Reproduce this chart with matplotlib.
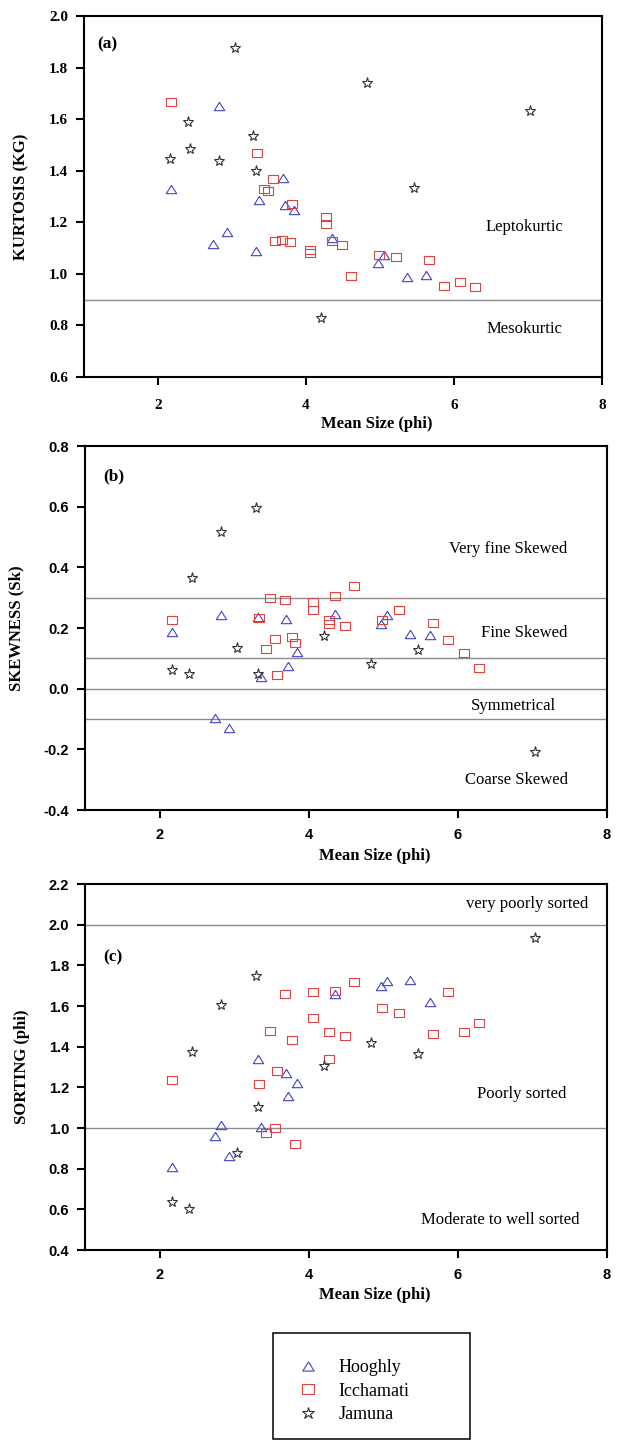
import matplotlib
matplotlib.use("Agg")
import matplotlib.pyplot as plt
from matplotlib.patches import Rectangle
from matplotlib.ticker import FormatStrFormatter, MultipleLocator

plt.rcParams["font.family"] = "Liberation Serif"
plt.rcParams["axes.unicode_minus"] = False

# Hooghly samples (mean size, kurtosis, skewness, sorting)
hooghly_mean = [2.17, 2.74, 2.83, 2.93, 3.32, 3.36, 3.69, 3.72, 3.84, 4.35, 4.97, 5.05, 5.36, 5.62]
hooghly_kurt = [1.331, 1.117, 1.651, 1.162, 1.088, 1.287, 1.37, 1.267, 1.247, 1.14, 1.042, 1.072, 0.988, 0.995]
hooghly_skew = [0.187, -0.098, 0.242, -0.129, 0.236, 0.040, 0.229, 0.076, 0.12, 0.245, 0.212, 0.244, 0.181, 0.176]
hooghly_sort = [0.807, 0.962, 1.015, 0.862, 1.339, 1.007, 1.269, 1.159, 1.223, 1.657, 1.698, 1.723, 1.728, 1.618]

# Icchamati samples
icchamati_mean = [2.17, 3.34, 3.43, 3.48, 3.55, 3.58, 3.68, 3.78, 3.81, 4.06, 4.06, 4.27, 4.27,
                  4.35, 4.49, 4.61, 4.98, 5.21, 5.66, 5.87, 6.08, 6.28]
icchamati_kurt = [1.666, 1.468, 1.33, 1.32, 1.366, 1.129, 1.132, 1.122, 1.27, 1.094, 1.081, 1.222, 1.194,
                  1.129, 1.112, 0.991, 1.072, 1.064, 1.053, 0.951, 0.968, 0.95]
icchamati_skew = [0.228, 0.234, 0.13, 0.30, 0.163, 0.046, 0.291, 0.170, 0.150, 0.286, 0.258, 0.228, 0.212,
                  0.305, 0.207, 0.339, 0.228, 0.258, 0.218, 0.159, 0.118, 0.069]
icchamati_sort = [1.236, 1.216, 0.977, 1.479, 0.998, 1.282, 1.657, 1.433, 0.921, 1.67, 1.543, 1.47, 1.338,
                  1.674, 1.452, 1.72, 1.592, 1.564, 1.462, 1.667, 1.47, 1.515]

# Jamuna samples
jamuna_mean = [2.16, 2.40, 2.43, 2.82, 3.04, 3.29, 3.32, 4.20, 4.83, 5.46, 7.03]
jamuna_kurt = [1.447, 1.587, 1.484, 1.439, 1.877, 1.533, 1.40, 0.828, 1.739, 1.332, 1.632]
jamuna_skew = [0.063, 0.047, 0.366, 0.517, 0.135, 0.594, 0.049, 0.174, 0.080, 0.129, -0.210]
jamuna_sort = [0.634, 0.602, 1.372, 1.605, 0.875, 1.749, 1.105, 1.307, 1.416, 1.362, 1.936]

# class boundaries and zone names
kurt_lines = [0.9]
kurt_zones = [("Leptokurtic", 6.95, 1.18), ("Mesokurtic", 6.95, 0.786)]
skew_lines = [0.3, 0.1, 0.0, -0.1]
skew_zones = [("Very fine Skewed", 6.67, 0.461), ("Fine Skewed", 6.89, 0.182),
              ("Symmetrical", 6.75, -0.058), ("Coarse Skewed", 6.78, -0.301)]
sort_lines = [2.0, 1.0]
sort_zones = [("very poorly sorted", 6.93, 2.10), ("Poorly sorted", 6.85, 1.167),
              ("Moderate to well sorted", 6.57, 0.547)]

# slightly squashed markers like the original
tri = [(0, 0.8), (-1, -0.8), (1, -0.8), (0, 0.8)]
sq = [(-1, -0.85), (1, -0.85), (1, 0.85), (-1, 0.85), (-1, -0.85)]
styles = [
    ("Hooghly", tri, "#4444c8", 7.5),
    ("Icchamati", sq, "#dc4444", 7.5),
    ("Jamuna", "*", "#333333", 8),
]

fig = plt.figure(figsize=(6.18, 14.4), dpi=100)
ax_a = fig.add_axes([84 / 618, 1 - 377 / 1440, 518 / 618, 361 / 1440])
ax_b = fig.add_axes([85 / 618, 1 - 810 / 1440, 522 / 618, 364 / 1440])
ax_c = fig.add_axes([85 / 618, 1 - 1250 / 1440, 522 / 618, 366 / 1440])

panels = [
    (ax_a, [hooghly_kurt, icchamati_kurt, jamuna_kurt], (0.6, 2.0), "KURTOSIS (KG)", "(a)", (1.18, 1.89),
     kurt_lines, kurt_zones, "Liberation Serif", 11, 10, 0.566, -0.108, -0.053),
    (ax_b, [hooghly_skew, icchamati_skew, jamuna_skew], (-0.4, 0.8), "SKEWNESS (Sk)", "(b)", (1.25, 0.70),
     skew_lines, skew_zones, "Liberation Sans", 10.5, 7.5, 0.556, -0.105, -0.063),
    (ax_c, [hooghly_sort, icchamati_sort, jamuna_sort], (0.4, 2.2), "SORTING (phi)", "(c)", (1.24, 1.84),
     sort_lines, sort_zones, "Liberation Sans", 10.5, 7.5, 0.556, -0.1, -0.053),
]
means = [hooghly_mean, icchamati_mean, jamuna_mean]

handles = []
for ax, ys, ylim, ylab, tag, tagpos, hlines, zones, tfont, tsize, xpad, xl_x, xl_y, yl_x in panels:
    for y in hlines:
        ax.axhline(y, color="#8c8c8c", lw=1.0, zorder=1)
    for (name, mk, col, ms), xs, yv in zip(styles, means, ys):
        ln, = ax.plot(xs, yv, linestyle="none", marker=mk, markersize=ms,
                      markerfacecolor="none", markeredgecolor=col, markeredgewidth=0.8,
                      label=name, zorder=3)
        if ax is ax_a:
            handles.append(ln)
    for txt, x, y in zones:
        ax.text(x, y, txt, ha="center", va="center", fontsize=12)
    ax.text(tagpos[0], tagpos[1], tag, ha="left", va="center", fontsize=12.5, fontweight="bold")

    ax.set_xlim(1, 8)
    ax.set_ylim(*ylim)
    ax.set_xticks([2, 4, 6, 8])
    ax.yaxis.set_major_locator(MultipleLocator(0.2))
    ax.yaxis.set_major_formatter(FormatStrFormatter("%.1f"))
    for s in ax.spines.values():
        s.set_linewidth(1.5)
    ax.tick_params(direction="out", length=5.5, width=1.5, top=False, right=False)
    ax.tick_params(axis="y", pad=6)
    ax.tick_params(axis="x", pad=xpad)
    for lbl in ax.get_xticklabels() + ax.get_yticklabels():
        lbl.set_fontfamily(tfont)
        lbl.set_fontsize(tsize)
        lbl.set_fontweight("bold")

    ax.set_xlabel("Mean Size (phi)", fontsize=12, fontweight="bold")
    ax.xaxis.set_label_coords(xl_x, xl_y)
    ax.set_ylabel(ylab, fontsize=12, fontweight="bold")
    ax.yaxis.set_label_coords(-0.098 + yl_x + 0.045, 0.5)

# legend box below the panels
fig.patches.append(Rectangle((273 / 618, 1 / 1440), 197 / 618, 106 / 1440,
                             transform=fig.transFigure, fill=False, edgecolor="black", lw=1.1))
fig.legend(handles=handles, loc="upper left", bbox_to_anchor=(299 / 618, 1 - 1359 / 1440),
           frameon=False, fontsize=13, handlelength=1.0, handletextpad=1.2,
           labelspacing=0.36, borderpad=0, borderaxespad=0, markerscale=1.1)

fig.savefig("out.png", dpi=100)
